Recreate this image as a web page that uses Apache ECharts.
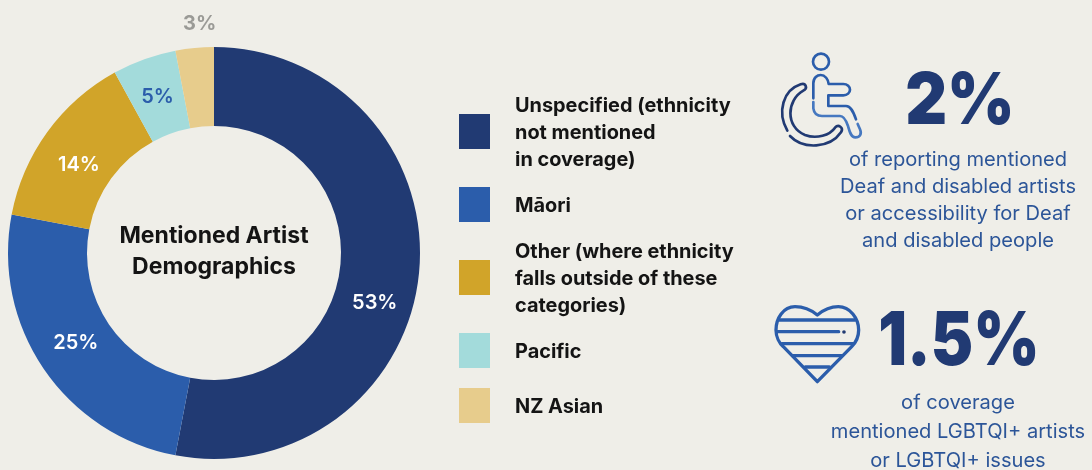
<!DOCTYPE html>
<html>
<head>
<meta charset="utf-8">
<style>html,body{margin:0;padding:0;background:#efeee8}#chart{width:1092px;height:470px}</style>
<script src="https://cdn.jsdelivr.net/npm/echarts@6/dist/echarts.min.js"></script>
</head>
<body>
<div id="chart"></div>
<script>
// Share of coverage by mentioned artist ethnicity, in percent
const categories = ['Unspecified (ethnicity\nnot mentioned\nin coverage)', 'Māori', 'Other (where ethnicity\nfalls outside of these\ncategories)', 'Pacific', 'NZ Asian'];
const shares = [53, 25, 14, 5, 3];
const sliceColors = ['#213a73', '#2b5dab', '#d1a429', '#a3dbdb', '#e7cc8c'];
const labelColors = ['#ffffff', '#ffffff', '#ffffff', '#2b5dab', '#9a9a96'];
const labelNudges = [{dx: -8, dy: 34}, {dx: 2, dy: -5}, {dx: 2, dy: 12}, {dx: 1, dy: 3}, {dx: 58, dy: -9}];
const legendTops = [93, 187, 239, 333, 388];
const centreTitle = 'Mentioned Artist\nDemographics';
const disabilityStat = '2%';
const disabilityNote = 'of reporting mentioned\nDeaf and disabled artists\nor accessibility for Deaf\nand disabled people';
const lgbtStat = '1.5%';
const lgbtNote = 'of coverage\nmentioned LGBTQI+ artists\nor LGBTQI+ issues';

const FONT = 'Inter, "Noto Sans", sans-serif';
const NAVY = '#213a73', BLUE = '#2b5dab', LIGHT = '#4678c0', NOTE = '#2c5598';

// Icons are stroked in a 3x local grid and scaled down on placement
let shapeCount = 0;
function stroke(path, color, width) {
  const type = 'iconStroke' + (shapeCount++);
  echarts.graphic.registerShape(type, echarts.graphic.extendPath(path, {}));
  return {type: type, style: {fill: null, stroke: color, lineWidth: width || 8, lineCap: 'round', lineJoin: 'round'}};
}
const wheelchair = {
  type: 'group', x: 770, y: 40, scaleX: 1 / 3, scaleY: 1 / 3,
  children: [
    {type: 'circle', shape: {cx: 153, cy: 65, r: 24}, style: {fill: null, stroke: BLUE, lineWidth: 8}},
    stroke('M130 175 L130 130 C130 112 142 105 152 105 C165 105 175 118 176 132 L220 132 C232 132 240 140 240 149 C240 158 232 166 220 166 L175 166 L175 198 L228 198 C242 198 250 215 258 238', BLUE),
    stroke('M130 186 L130 205 C132 220 142 228 156 228 L210 228 C222 228 228 240 234 258 C238 272 242 292 256 292 C270 292 276 282 270 268 L263 252', LIGHT),
    stroke('M52 272 C20 215 40 150 92 133 C108 128 114 145 100 152 C50 180 45 260 105 285 C140 298 180 285 195 263 C205 252 222 262 213 277 C180 325 100 330 60 288', NAVY)
  ]
};
const heart = {
  type: 'group', x: 770, y: 295, scaleX: 1 / 3, scaleY: 1 / 3,
  children: [
    stroke('M142 60 C120 42 100 35 75 35 C40 35 18 70 18 105 C18 125 28 145 40 155 L142 260 L245 155 C258 142 266 125 266 105 C266 70 240 35 205 35 C180 35 160 45 142 60 Z', BLUE, 10),
    stroke('M28 75 L255 75', BLUE, 10),
    stroke('M20 110 L206 110', BLUE, 10),
    {type: 'circle', shape: {cx: 222, cy: 111, r: 5.5}, style: {fill: NAVY}},
    stroke('M36 146 L250 146', BLUE, 10),
    stroke('M70 182 L216 182', BLUE, 10),
    stroke('M106 216 L178 216', BLUE, 10)
  ]
};
function text(x, y, str, size, weight, color, lineHeight, scaleX) {
  return {type: 'text', x: x, y: y, scaleX: scaleX || 1, style: {text: str, font: weight + ' ' + size + 'px ' + FONT, fill: color, align: 'center', verticalAlign: 'middle', lineHeight: lineHeight}};
}

const chart = echarts.init(document.getElementById('chart'), null, {renderer: 'canvas'});
chart.setOption({
  backgroundColor: '#efeee8',
  animation: false,
  color: sliceColors,
  legend: categories.map((name, i) => ({
    data: [name], left: 459, top: legendTops[i], orient: 'vertical',
    padding: 0, itemWidth: 31, itemHeight: 35, itemGap: 0, selectedMode: false, icon: 'rect',
    formatter: label => label.split('\n').map(line => '{t|' + line + '}').join('\n'),
    textStyle: {
      padding: [0, 0, 0, 20],
      rich: {t: {fontFamily: FONT, fontSize: 19.9, fontWeight: 700, color: '#141414', lineHeight: 27, verticalAlign: 'middle', padding: [3, 0, 0, 0]}}
    }
  })),
  series: [{
    type: 'pie',
    center: [214, 253],
    radius: [127, 206],
    startAngle: 90,
    clockwise: true,
    silent: true,
    label: {position: 'inside', formatter: '{c}%', fontFamily: FONT, fontSize: 20, fontWeight: 600},
    labelLine: {show: false},
    labelLayout: params => labelNudges[params.dataIndex],
    data: categories.map((name, i) => ({
      name: name, value: shares[i],
      itemStyle: {color: sliceColors[i]},
      label: i === 4
        ? {position: 'outside', distance: 6, color: labelColors[i], fontWeight: 700}
        : {color: labelColors[i]}
    }))
  }],
  graphic: [
    text(214, 252, centreTitle, 23, 700, '#141414', 31),
    wheelchair,
    heart,
    text(960, 102, disabilityStat, 72, 900, NAVY, null, 0.9),
    text(958, 200, disabilityNote, 20.1, 400, NOTE, 27),
    text(959, 343, lgbtStat, 74, 900, NAVY, null, 0.86),
    text(958, 432, lgbtNote, 20.1, 400, NOTE, 29)
  ]
});
</script>
</body>
</html>
